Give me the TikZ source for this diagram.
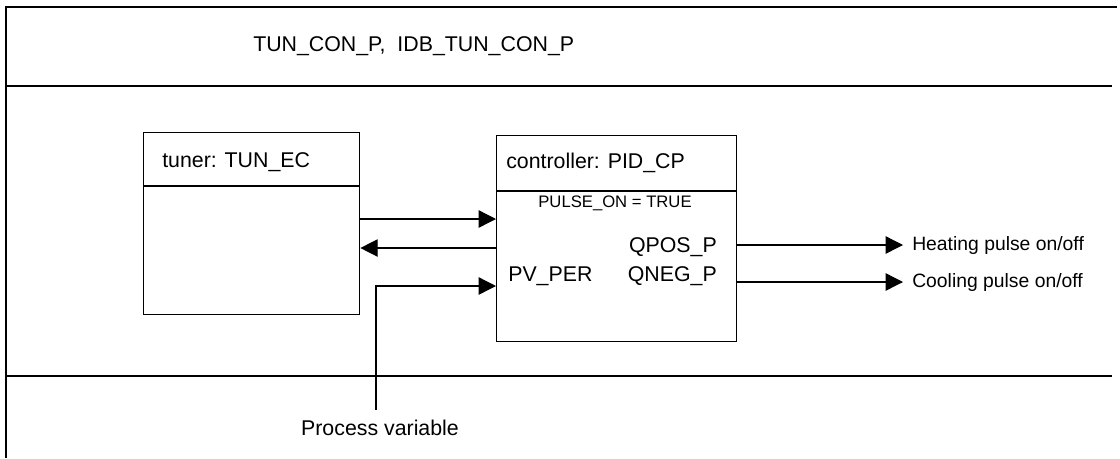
\documentclass[tikz,border=0pt]{standalone}
\usepackage{fontspec}
\setmainfont{Liberation Sans}
\usetikzlibrary{arrows.meta}
\begin{document}
\begin{tikzpicture}[x=0.75pt,y=-0.75pt,
  frame/.style={line width=1pt,black},
  blockbox/.style={draw,line width=1pt,inner sep=0pt,anchor=north west},
  lbl/.style={font=\fontsize{16}{19}\selectfont,inner sep=0pt},
  small/.style={font=\fontsize{12.5}{15}\selectfont,inner sep=0pt},
  outlbl/.style={font=\fontsize{14.5}{17}\selectfont,inner sep=0pt,anchor=west},
  conn/.style={line width=1pt,-{Triangle[length=13pt,width=13pt]}}]
\useasboundingbox (0,0) rectangle (1120,458);
% outer frame
\draw[frame] (6,458) -- (6,7) -- (1117,7);
\draw[frame] (6,86) -- (1112,86);
\draw[frame] (6,376) -- (1112,376);
\node[lbl,anchor=west] (title) at (253,46) {TUN\_CON\_P,\ \ IDB\_TUN\_CON\_P};
% tuner block
\node[blockbox,minimum width=162pt,minimum height=136.5pt] (tuner) at (143,132) {};
\coordinate (tdiv) at (0,186);
\draw[line width=1pt] (tuner.west |- tdiv) -- (tuner.east |- tdiv);
\node[lbl,anchor=west] (tunerlbl) at (162,162) {tuner: TUN\_EC};
% controller block
\node[blockbox,minimum width=180pt,minimum height=154.5pt] (ctrl) at (496,135) {};
\coordinate (cdiv) at (0,191);
\draw[line width=1pt] (ctrl.west |- cdiv) -- (ctrl.east |- cdiv);
\node[lbl,anchor=west] (ctrllbl) at (506,163) {controller: PID\_CP};
\node[small] (pulse) at (615,203) {PULSE\_ON = TRUE};
\node[lbl,anchor=east] (qpos) at (717,247) {QPOS\_P};
\node[lbl,anchor=east] (qneg) at (717,276) {QNEG\_P};
\node[lbl,anchor=west] (pvper) at (508,276) {PV\_PER};
% connectors between blocks
\coordinate (y1) at (0,219);
\coordinate (y2) at (0,248);
\coordinate (y3) at (0,286);
\draw[conn] (tuner.east |- y1) -- (ctrl.west |- y1);
\draw[conn] (ctrl.west |- y2) -- (tuner.east |- y2);
% process variable
\node[lbl] (pv) at (380,428) {Process variable};
\coordinate (pvend) at (376,410);
\draw[conn] (pvend) |- (ctrl.west |- y3);
% outputs
\node[outlbl,inner xsep=6.75pt] (heat) at (903,245) {Heating pulse on/off};
\node[outlbl,inner xsep=6.75pt] (cool) at (903,282) {Cooling pulse on/off};
\draw[conn] (ctrl.east |- heat.west) -- (heat.west);
\draw[conn] (ctrl.east |- cool.west) -- (cool.west);
\end{tikzpicture}
\end{document}
